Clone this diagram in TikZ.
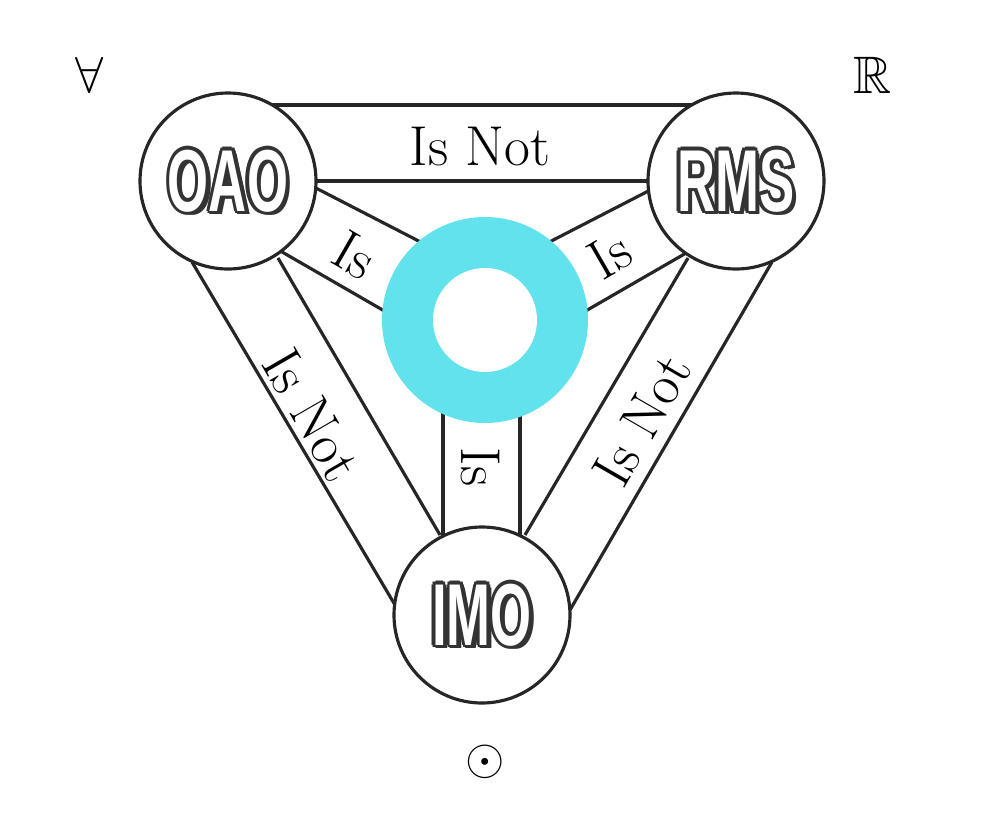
\documentclass[tikz,border=0pt]{standalone}
\usepackage{amssymb}
\usepackage{fontspec}
\newfontfamily\labelfont{Liberation Sans}
\definecolor{ringcyan}{RGB}{98,226,236}
\tikzset{
  band/.style={line width=0.9pt, black!85},
  disc/.style={circle, draw=black!85, line width=0.9pt, fill=white, minimum size=1.76cm, inner sep=0pt},
  isnot/.style={font=\fontsize{16}{16}\selectfont},
  sym/.style={font=\fontsize{15}{15}\selectfont},
  plate/.style={font=\labelfont\bfseries\fontsize{25}{25}\selectfont, xscale=0.6},
}
\newcommand{\shadowlabel}[2]{%
  \foreach \dx/\dy in {-0.035/0,0.035/0,0/-0.035,0/0.035,-0.025/-0.025,0.025/0.025,-0.025/0.025,0.025/-0.025,0.045/0.03}
    \node[plate, text=black!80] at ($(#1)+(\dx,\dy)$) {#2};
  \node[plate, text=white] at (#1) {#2};
}
\usetikzlibrary{calc}
\begin{document}
\begin{tikzpicture}[y=-1cm]
            \useasboundingbox (0,0) rectangle (9.92,8.22);

            % bands
            \draw[band] (2.28,1.05) -- (7.36,1.05);
            \draw[band] (2.28,1.81) -- (7.36,1.81);
            \draw[band] (1.92,2.62) -- (3.98,6.10);
            \draw[band] (2.78,2.58) -- (4.40,5.35);
            \draw[band] (7.72,2.62) -- (5.70,6.10);
            \draw[band] (6.88,2.58) -- (5.25,5.35);
            \draw[band] (3.10,1.85) -- (4.40,2.52);
            \draw[band] (2.70,2.45) -- (4.00,3.20);
            \draw[band] (6.60,1.85) -- (5.30,2.52);
            \draw[band] (7.00,2.45) -- (5.70,3.20);
            \draw[band] (4.43,3.20) -- (4.43,5.45);
            \draw[band] (5.20,3.20) -- (5.20,5.45);

            % ring
            \node[circle, fill=ringcyan, minimum size=2.06cm, inner sep=0pt] (ring) at (4.85,3.20) {};
            \node[circle, fill=white, minimum size=1.04cm, inner sep=0pt] (hole) at (4.85,3.20) {};

            % circles
            \node[disc] (oao) at (2.28,1.81) {};
            \node[disc] (rms) at (7.36,1.81) {};
            \node[disc] (imo) at (4.82,6.15) {};
            \shadowlabel{oao}{OAO}
            \shadowlabel{rms}{RMS}
            \shadowlabel{imo}{IMO}

            % relations
            \node[isnot] at (4.80,1.47) {Is Not};
            \node[isnot, rotate=-60] at (3.12,4.15) {Is Not};
            \node[isnot, rotate=60] at (6.42,4.20) {Is Not};
            \node[isnot, rotate=-30] at (3.55,2.55) {Is};
            \node[isnot, rotate=30] at (6.10,2.55) {Is};
            \node[isnot, rotate=-90] at (4.80,4.67) {Is};

            % symbols
            \node[sym] at (0.90,0.75) {$\forall$};
            \node[sym] at (8.73,0.75) {$\mathbb{R}$};
            \node[sym] at (4.85,7.62) {$\odot$};
        \end{tikzpicture}
\end{document}
